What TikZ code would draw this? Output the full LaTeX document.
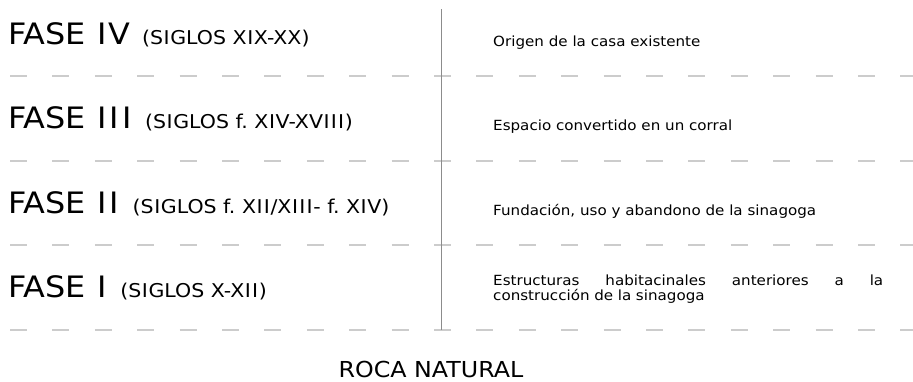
\documentclass[tikz,border=0pt]{standalone}
\usepackage{fontspec}
\setmainfont{DejaVu Sans}[FakeStretch=1.08]
\frenchspacing
\begin{document}
\begin{tikzpicture}[x=1pt,y=-1pt,
  sep/.style={draw=black!20, line width=1.6pt, dash pattern=on 17pt off 25.4pt},
  axis/.style={draw=black!45, line width=1.3pt},
  fase/.style={anchor=base west, inner sep=0pt, font=\fontsize{29.5}{34}\selectfont},
  desc/.style={anchor=base west, inner sep=0pt, font=\fontsize{14}{15}\selectfont},
  roca/.style={anchor=base, inner sep=0pt, font=\fontsize{22}{26}\selectfont}]
\useasboundingbox (0,0) rectangle (913,381);
\newcommand{\siglos}[1]{{\fontsize{19}{22}\selectfont #1}}
\newcommand{\BI}{\kern1.5pt I\kern1.5pt}
\newcommand{\SI}{\kern0.6pt I\kern0.6pt}
% separators
\foreach \y/\n in {76/a,161/b,245/c,330/d}{
  \coordinate (s\n l) at (10,\y);
  \coordinate (s\n r) at (913,\y);
  \draw[sep] (s\n l) -- (s\n r);
}
\coordinate (vtop) at (441.5,9);
\coordinate (vbot) at (441.5,330);
\draw[axis] (vtop) -- (vbot);
% left labels
\node[fase] (f4) at (8,44) {FASE \BI V\hspace{12pt}\siglos{(S\SI GLOS X\SI X-XX)}};
\node[fase] (f3) at (8,128) {FASE \BI\BI\BI\hspace{12pt}\siglos{(S\SI GLOS f. X\SI V-XV\SI\SI\SI)}};
\node[fase] (f2) at (8,213) {FASE \BI\BI\hspace{12pt}\siglos{(S\SI GLOS f. X\SI\SI/X\SI\SI\SI- f. X\SI V)}};
\node[fase] (f1) at (8,297) {FASE \BI\hspace{12pt}\siglos{(S\SI GLOS X-X\SI\SI)}};
% right descriptions
\node[desc] (d4) at (493,46) {Origen de la casa existente};
\node[desc] (d3) at (493,130) {Espacio convertido en un corral};
\node[desc] (d2) at (493,215) {Fundación, uso y abandono de la sinagoga};
\node[desc, text width=390pt, align=left] (d1) at (493,285) {\makebox[390pt][l]{Estructuras\hfill habitacinales\hfill anteriores\hfill a\hfill la}\\construcción de la sinagoga};
\node[roca] (rn) at (431,377) {ROCA NATURAL};
\end{tikzpicture}
\end{document}
